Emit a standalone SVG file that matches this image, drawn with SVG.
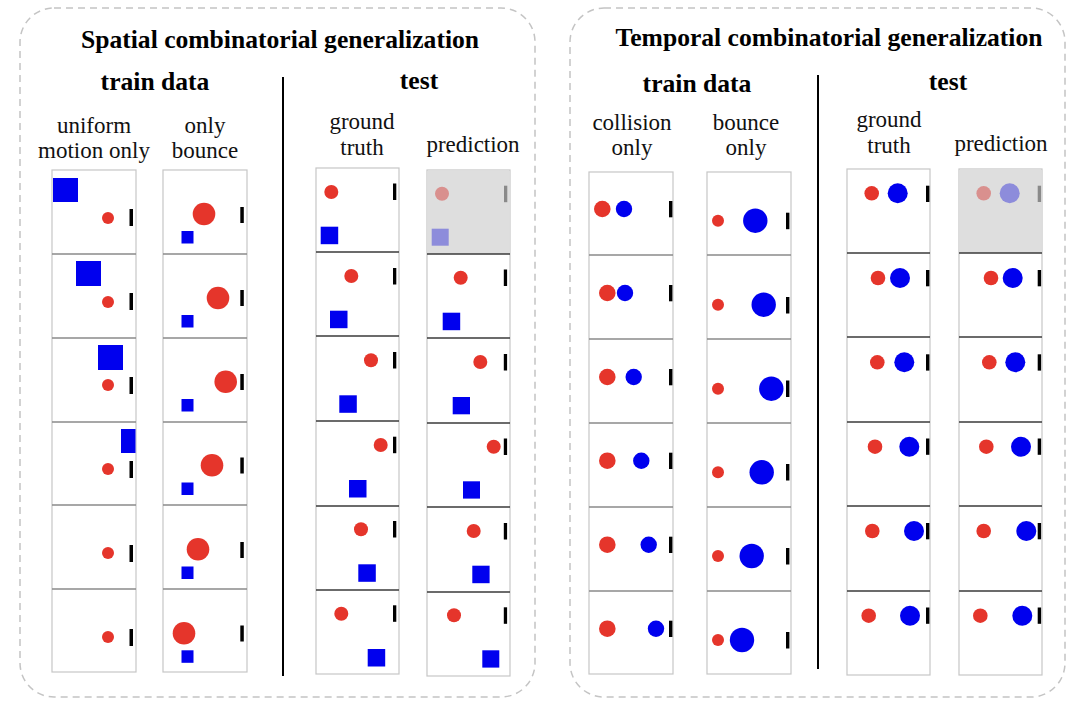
<svg xmlns="http://www.w3.org/2000/svg" width="1080" height="709" viewBox="0 0 1080 709">
<style>
.bg{fill:#ffffff}
.panel{fill:none;stroke:#c4c4c4;stroke-width:1.5;stroke-dasharray:7 5}
.title{font-family:"Liberation Serif","Times New Roman",serif;font-weight:bold;font-size:25.6px;fill:#000;text-anchor:middle}
.sub{font-family:"Liberation Serif","Times New Roman",serif;font-size:23px;fill:#111;text-anchor:middle}
.div{stroke:#000;stroke-width:2}
.col{fill:#ffffff;stroke:#c6c6c6;stroke-width:1.2}
.sepL{stroke:#8a8a8a;stroke-width:1.4}
.sepD{stroke:#3a3a3a;stroke-width:1.6}
.gray{fill:#dedede}
.r{fill:#e5352b}
.b{fill:#0000ee}
.k{fill:#000}
.rf{fill:#d9908e}
.bf{fill:#8d8cdb}
.kf{fill:#8a8a8a}
</style>
<rect class="bg" x="0" y="0" width="1080" height="709"/>
<g id="panel-spatial">
<rect class="panel" x="20" y="8" width="515" height="689" rx="34"/>
<text class="title" x="280" y="48">Spatial combinatorial generalization</text>
<text class="title" x="155" y="90">train data</text>
<text class="title" x="419" y="89">test</text>
<text class="sub" x="94" y="133">uniform</text>
<text class="sub" x="94" y="158">motion only</text>
<text class="sub" x="205" y="133">only</text>
<text class="sub" x="205" y="158">bounce</text>
<text class="sub" x="362" y="129">ground</text>
<text class="sub" x="362" y="155">truth</text>
<text class="sub" x="473" y="152">prediction</text>
</g>
<g id="panel-temporal">
<rect class="panel" x="570" y="8" width="495" height="689" rx="34"/>
<text class="title" x="829" y="46">Temporal combinatorial generalization</text>
<text class="title" x="697" y="92">train data</text>
<text class="title" x="948" y="90">test</text>
<text class="sub" x="632" y="130">collision</text>
<text class="sub" x="632" y="155">only</text>
<text class="sub" x="746" y="130">bounce</text>
<text class="sub" x="746" y="155">only</text>
<text class="sub" x="889" y="127">ground</text>
<text class="sub" x="889" y="153">truth</text>
<text class="sub" x="1001" y="151">prediction</text>
</g>
<g id="dividers">
<line class="div" x1="283" y1="77" x2="283" y2="676"/>
<line class="div" x1="818" y1="75" x2="818" y2="669"/>
</g>

<!-- Column 1: uniform motion only -->
<g id="col-uniform">
<rect class="col" x="52" y="170" width="84" height="502"/>
<line class="sepL" x1="52" y1="254" x2="136" y2="254"/>
<line class="sepL" x1="52" y1="338" x2="136" y2="338"/>
<line class="sepL" x1="52" y1="422" x2="136" y2="422"/>
<line class="sepL" x1="52" y1="505" x2="136" y2="505"/>
<line class="sepL" x1="52" y1="589" x2="136" y2="589"/>
<g id="u1"><rect class="b" x="53" y="178" width="25" height="24"/><circle class="r" cx="108" cy="218" r="6"/><rect class="k" x="129.5" y="209" width="3.5" height="17"/></g>
<g id="u2"><rect class="b" x="76" y="261" width="25" height="25"/><circle class="r" cx="108" cy="302" r="6"/><rect class="k" x="129.5" y="293" width="3.5" height="17"/></g>
<g id="u3"><rect class="b" x="98" y="345" width="25" height="25"/><circle class="r" cx="108" cy="385" r="6"/><rect class="k" x="129.5" y="377" width="3.5" height="17"/></g>
<g id="u4"><rect class="b" x="121" y="429" width="14.5" height="24"/><circle class="r" cx="108" cy="469" r="6"/><rect class="k" x="129.5" y="461" width="3.5" height="17"/></g>
<g id="u5"><circle class="r" cx="108" cy="553" r="6"/><rect class="k" x="129.5" y="545" width="3.5" height="17"/></g>
<g id="u6"><circle class="r" cx="108" cy="637" r="6"/><rect class="k" x="129.5" y="629" width="3.5" height="17"/></g>
</g>

<!-- Column 2: only bounce -->
<g id="col-bounce">
<rect class="col" x="163" y="170" width="84" height="502"/>
<line class="sepL" x1="163" y1="254" x2="247" y2="254"/>
<line class="sepL" x1="163" y1="338" x2="247" y2="338"/>
<line class="sepL" x1="163" y1="422" x2="247" y2="422"/>
<line class="sepL" x1="163" y1="505" x2="247" y2="505"/>
<line class="sepL" x1="163" y1="589" x2="247" y2="589"/>
<g id="o1"><circle class="r" cx="204" cy="214" r="11.3"/><rect class="b" x="181.5" y="231" width="12" height="12.5"/><rect class="k" x="240.3" y="207" width="3.5" height="16"/></g>
<g id="o2"><circle class="r" cx="218" cy="298" r="11.3"/><rect class="b" x="181.5" y="315" width="12" height="12.5"/><rect class="k" x="240.3" y="290" width="3.5" height="16"/></g>
<g id="o3"><circle class="r" cx="225.7" cy="381.7" r="11.3"/><rect class="b" x="181.5" y="399" width="12" height="12.5"/><rect class="k" x="240.3" y="374" width="3.5" height="16"/></g>
<g id="o4"><circle class="r" cx="212" cy="465.3" r="11.3"/><rect class="b" x="181.5" y="482.5" width="12" height="12.5"/><rect class="k" x="240.3" y="457.5" width="3.5" height="16"/></g>
<g id="o5"><circle class="r" cx="198" cy="549.3" r="11.3"/><rect class="b" x="181.5" y="566.5" width="12" height="12.5"/><rect class="k" x="240.3" y="542" width="3.5" height="16"/></g>
<g id="o6"><circle class="r" cx="184" cy="633.3" r="11.3"/><rect class="b" x="181.5" y="650.3" width="12" height="12.5"/><rect class="k" x="240.3" y="625.5" width="3.5" height="16"/></g>
</g>

<!-- Column 3: spatial ground truth -->
<g id="col-sgt">
<rect class="col" x="316" y="168" width="83" height="506"/>
<line class="sepD" x1="316" y1="252" x2="399" y2="252"/>
<line class="sepD" x1="316" y1="336" x2="399" y2="336"/>
<line class="sepD" x1="316" y1="421" x2="399" y2="421"/>
<line class="sepD" x1="316" y1="506" x2="399" y2="506"/>
<line class="sepD" x1="316" y1="590" x2="399" y2="590"/>
<g id="g1"><circle class="r" cx="331.3" cy="192" r="7"/><rect class="b" x="320.7" y="226.7" width="17.5" height="17.5"/><rect class="k" x="393" y="183.5" width="3.3" height="16.5"/></g>
<g id="g2"><circle class="r" cx="351.3" cy="276" r="7"/><rect class="b" x="330" y="310.7" width="17.5" height="17.5"/><rect class="k" x="393" y="268" width="3.3" height="16.5"/></g>
<g id="g3"><circle class="r" cx="371" cy="360.3" r="7"/><rect class="b" x="339.3" y="395.3" width="17.5" height="17.5"/><rect class="k" x="393" y="352" width="3.3" height="16.5"/></g>
<g id="g4"><circle class="r" cx="380.7" cy="445" r="7"/><rect class="b" x="349" y="480" width="17.5" height="17.5"/><rect class="k" x="393" y="436.7" width="3.3" height="16.5"/></g>
<g id="g5"><circle class="r" cx="361" cy="529.3" r="7"/><rect class="b" x="358.3" y="564.3" width="17.5" height="17.5"/><rect class="k" x="393" y="521" width="3.3" height="16.5"/></g>
<g id="g6"><circle class="r" cx="341.3" cy="613.7" r="7"/><rect class="b" x="367.7" y="649" width="17.5" height="17.5"/><rect class="k" x="393" y="605.3" width="3.3" height="16.5"/></g>
</g>

<!-- Column 4: spatial prediction -->
<g id="col-spred">
<rect class="col" x="427" y="170" width="83" height="506"/>
<rect class="gray" x="427.6" y="170.6" width="81.8" height="83.4"/>
<line class="sepD" x1="427" y1="254" x2="510" y2="254"/>
<line class="sepD" x1="427" y1="338" x2="510" y2="338"/>
<line class="sepD" x1="427" y1="423" x2="510" y2="423"/>
<line class="sepD" x1="427" y1="507" x2="510" y2="507"/>
<line class="sepD" x1="427" y1="592" x2="510" y2="592"/>
<g id="p1"><circle class="rf" cx="442" cy="193.7" r="7"/><rect class="bf" x="431.7" y="228.7" width="17" height="17"/><rect class="kf" x="504" y="185.7" width="3.3" height="16.5"/></g>
<g id="p2"><circle class="r" cx="460.7" cy="277.7" r="7"/><rect class="b" x="442.7" y="312.7" width="17.5" height="17.5"/><rect class="k" x="503.8" y="269.5" width="3.3" height="16.5"/></g>
<g id="p3"><circle class="r" cx="480.3" cy="362" r="7"/><rect class="b" x="452.7" y="397" width="17.3" height="17.3"/><rect class="k" x="503.8" y="354" width="3.3" height="16.5"/></g>
<g id="p4"><circle class="r" cx="493.7" cy="446.7" r="7"/><rect class="b" x="463" y="481.3" width="17" height="17.3"/><rect class="k" x="503.8" y="438.5" width="3.3" height="16.5"/></g>
<g id="p5"><circle class="r" cx="473.7" cy="531" r="7"/><rect class="b" x="472.3" y="565.7" width="17.3" height="17.5"/><rect class="k" x="503.8" y="523" width="3.3" height="16.5"/></g>
<g id="p6"><circle class="r" cx="454" cy="615.3" r="7"/><rect class="b" x="482.3" y="650.3" width="17" height="17.3"/><rect class="k" x="503.8" y="607.3" width="3.3" height="16.5"/></g>
</g>

<!-- Column 5: collision only -->
<g id="col-collision">
<rect class="col" x="589" y="172" width="84" height="502"/>
<line class="sepL" x1="589" y1="255" x2="673" y2="255"/>
<line class="sepL" x1="589" y1="339" x2="673" y2="339"/>
<line class="sepL" x1="589" y1="423" x2="673" y2="423"/>
<line class="sepL" x1="589" y1="507" x2="673" y2="507"/>
<line class="sepL" x1="589" y1="591" x2="673" y2="591"/>
<g id="c1"><circle class="r" cx="602.3" cy="209" r="8.3"/><circle class="b" cx="624" cy="209" r="8.2"/><rect class="k" x="669" y="201" width="3.4" height="16.3"/></g>
<g id="c2"><circle class="r" cx="607.3" cy="293" r="8.3"/><circle class="b" cx="625" cy="293" r="8.2"/><rect class="k" x="669" y="285" width="3.4" height="16.3"/></g>
<g id="c3"><circle class="r" cx="607.3" cy="377" r="8.3"/><circle class="b" cx="633.7" cy="377" r="8.2"/><rect class="k" x="669" y="369" width="3.4" height="16.3"/></g>
<g id="c4"><circle class="r" cx="607.3" cy="460.7" r="8.3"/><circle class="b" cx="641.3" cy="460.7" r="8.2"/><rect class="k" x="669" y="452.7" width="3.4" height="16.3"/></g>
<g id="c5"><circle class="r" cx="607.3" cy="544.7" r="8.3"/><circle class="b" cx="648.7" cy="544.7" r="8.2"/><rect class="k" x="669" y="536.7" width="3.4" height="16.3"/></g>
<g id="c6"><circle class="r" cx="607.3" cy="628.7" r="8.3"/><circle class="b" cx="656" cy="628.7" r="8.2"/><rect class="k" x="669" y="620.7" width="3.4" height="16.3"/></g>
</g>

<!-- Column 6: bounce only -->
<g id="col-bounceonly">
<rect class="col" x="707" y="172" width="84" height="502"/>
<line class="sepL" x1="707" y1="255" x2="791" y2="255"/>
<line class="sepL" x1="707" y1="339" x2="791" y2="339"/>
<line class="sepL" x1="707" y1="423" x2="791" y2="423"/>
<line class="sepL" x1="707" y1="507" x2="791" y2="507"/>
<line class="sepL" x1="707" y1="591" x2="791" y2="591"/>
<g id="bo1"><circle class="r" cx="718" cy="220.7" r="6"/><circle class="b" cx="755.3" cy="220.7" r="12.2"/><rect class="k" x="786" y="212.7" width="3.4" height="16.5"/></g>
<g id="bo2"><circle class="r" cx="718" cy="304.7" r="6"/><circle class="b" cx="763.7" cy="304.7" r="12.2"/><rect class="k" x="786" y="297" width="3.4" height="16.5"/></g>
<g id="bo3"><circle class="r" cx="718" cy="388.7" r="6"/><circle class="b" cx="771.3" cy="388.7" r="12.2"/><rect class="k" x="786" y="380.5" width="3.4" height="16.5"/></g>
<g id="bo4"><circle class="r" cx="718" cy="472.3" r="6"/><circle class="b" cx="761.7" cy="472.3" r="12.2"/><rect class="k" x="786" y="464" width="3.4" height="16.5"/></g>
<g id="bo5"><circle class="r" cx="718" cy="556" r="6"/><circle class="b" cx="751.7" cy="556" r="12.2"/><rect class="k" x="786" y="548" width="3.4" height="16.5"/></g>
<g id="bo6"><circle class="r" cx="718" cy="640" r="6"/><circle class="b" cx="742" cy="640" r="12.2"/><rect class="k" x="786" y="632" width="3.4" height="16.5"/></g>
</g>

<!-- Column 7: temporal ground truth -->
<g id="col-tgt">
<rect class="col" x="847" y="169" width="83" height="506"/>
<line class="sepD" x1="847" y1="253" x2="930" y2="253"/>
<line class="sepD" x1="847" y1="337" x2="930" y2="337"/>
<line class="sepD" x1="847" y1="422" x2="930" y2="422"/>
<line class="sepD" x1="847" y1="506" x2="930" y2="506"/>
<line class="sepD" x1="847" y1="591" x2="930" y2="591"/>
<g id="tg1"><circle class="r" cx="871.7" cy="193.3" r="7.3"/><circle class="b" cx="897.7" cy="193.3" r="10"/><rect class="k" x="926" y="185.7" width="3.4" height="16.3"/></g>
<g id="tg2"><circle class="r" cx="878" cy="278" r="7.3"/><circle class="b" cx="900" cy="278" r="10"/><rect class="k" x="926" y="270" width="3.4" height="16.3"/></g>
<g id="tg3"><circle class="r" cx="877.3" cy="362.3" r="7.3"/><circle class="b" cx="904.3" cy="362.3" r="10"/><rect class="k" x="926" y="354.3" width="3.4" height="16.3"/></g>
<g id="tg4"><circle class="r" cx="875" cy="446.7" r="7.3"/><circle class="b" cx="909.3" cy="446.7" r="10"/><rect class="k" x="926" y="438.5" width="3.4" height="16.3"/></g>
<g id="tg5"><circle class="r" cx="872.3" cy="531" r="7.3"/><circle class="b" cx="914" cy="531" r="10"/><rect class="k" x="926" y="523" width="3.4" height="16.3"/></g>
<g id="tg6"><circle class="r" cx="868.7" cy="615.7" r="7.3"/><circle class="b" cx="910" cy="615.7" r="10"/><rect class="k" x="926" y="607.5" width="3.4" height="16.3"/></g>
</g>

<!-- Column 8: temporal prediction -->
<g id="col-tpred">
<rect class="col" x="959" y="169" width="83" height="506"/>
<rect class="gray" x="959.6" y="169.6" width="81.8" height="83.4"/>
<line class="sepD" x1="959" y1="253" x2="1042" y2="253"/>
<line class="sepD" x1="959" y1="337" x2="1042" y2="337"/>
<line class="sepD" x1="959" y1="422" x2="1042" y2="422"/>
<line class="sepD" x1="959" y1="506" x2="1042" y2="506"/>
<line class="sepD" x1="959" y1="591" x2="1042" y2="591"/>
<g id="tp1"><circle class="rf" cx="983.7" cy="193.3" r="7.3"/><circle class="bf" cx="1009.7" cy="193.3" r="10"/><rect class="kf" x="1037.7" y="185.7" width="3.4" height="16.3"/></g>
<g id="tp2"><circle class="r" cx="991" cy="278" r="7.3"/><circle class="b" cx="1012.7" cy="278" r="10"/><rect class="k" x="1037.7" y="270" width="3.4" height="16.3"/></g>
<g id="tp3"><circle class="r" cx="989.3" cy="362.3" r="7.3"/><circle class="b" cx="1015.3" cy="362.3" r="10"/><rect class="k" x="1037.7" y="354.3" width="3.4" height="16.3"/></g>
<g id="tp4"><circle class="r" cx="986.3" cy="446.7" r="7.3"/><circle class="b" cx="1021" cy="446.7" r="10"/><rect class="k" x="1037.7" y="438.5" width="3.4" height="16.3"/></g>
<g id="tp5"><circle class="r" cx="983.7" cy="531" r="7.3"/><circle class="b" cx="1026.3" cy="531" r="10"/><rect class="k" x="1037.7" y="523" width="3.4" height="16.3"/></g>
<g id="tp6"><circle class="r" cx="980.3" cy="615.7" r="7.3"/><circle class="b" cx="1022.3" cy="615.7" r="10"/><rect class="k" x="1037.7" y="607.5" width="3.4" height="16.3"/></g>
</g>
</svg>
